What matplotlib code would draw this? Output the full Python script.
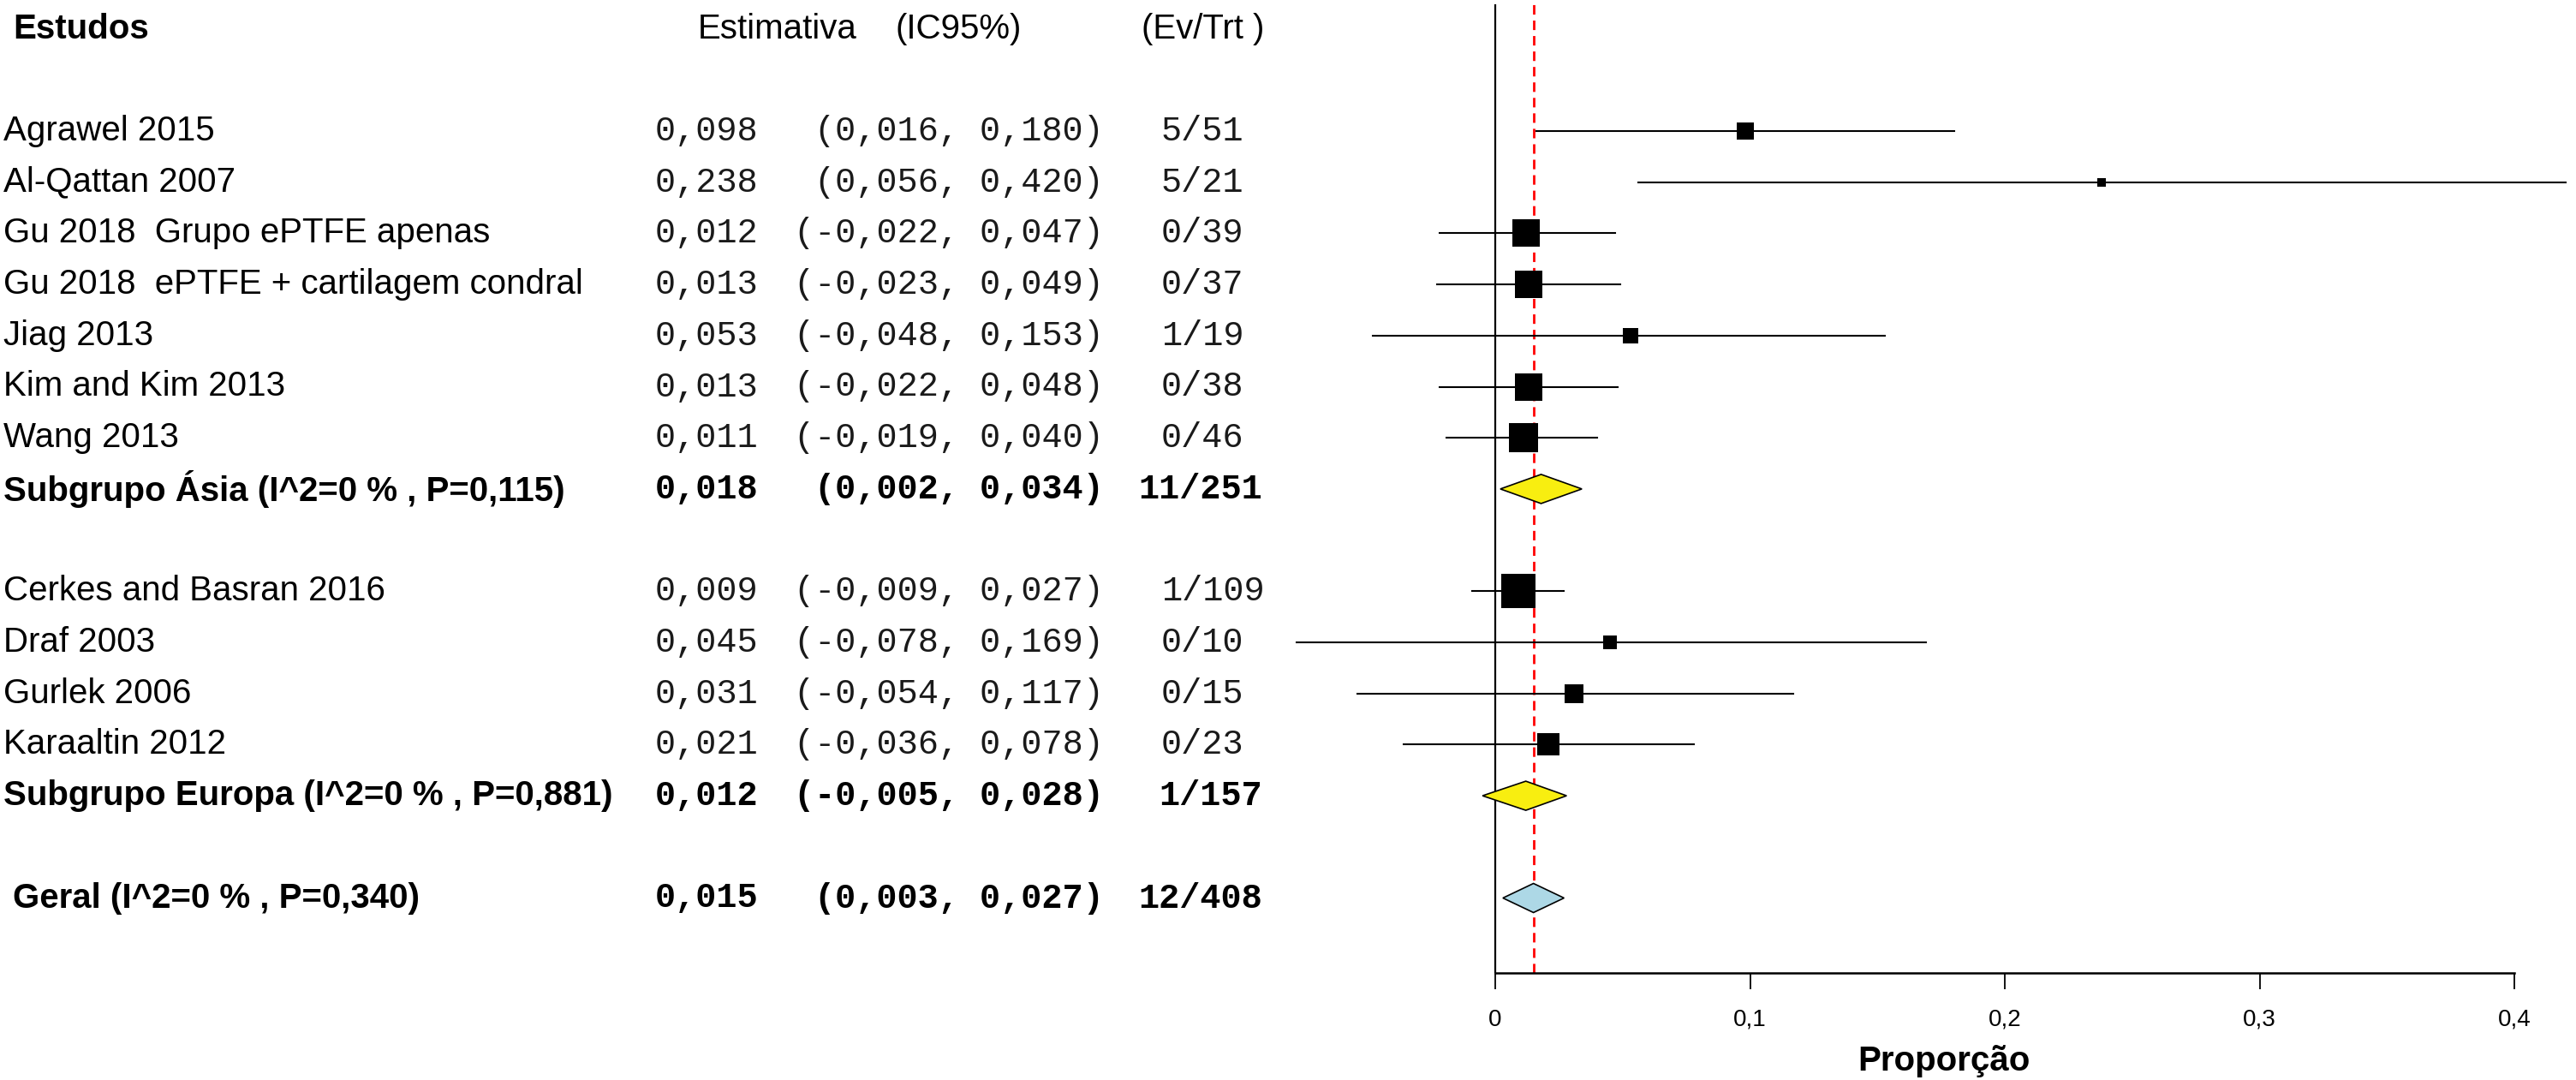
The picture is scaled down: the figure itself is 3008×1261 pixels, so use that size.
import matplotlib
matplotlib.use('Agg')
import matplotlib.pyplot as plt
from matplotlib import transforms
from matplotlib.patches import Polygon

# ---- dados: subgrupo Ásia ----
estudos_asia = ['Agrawel 2015', 'Al-Qattan 2007', 'Gu 2018  Grupo ePTFE apenas',
                'Gu 2018  ePTFE + cartilagem condral', 'Jiag 2013', 'Kim and Kim 2013', 'Wang 2013']
est_asia = [0.098, 0.238, 0.012, 0.013, 0.053, 0.013, 0.011]
li_asia = [0.016, 0.056, -0.022, -0.023, -0.048, -0.022, -0.019]
ls_asia = [0.180, 0.420, 0.047, 0.049, 0.153, 0.048, 0.040]
ev_asia = [5, 5, 0, 0, 1, 0, 0]
n_asia = [51, 21, 39, 37, 19, 38, 46]
peso_asia = [5.0, 1.3, 12.2, 12.2, 4.5, 12.2, 15.0]

# ---- dados: subgrupo Europa ----
estudos_eur = ['Cerkes and Basran 2016', 'Draf 2003', 'Gurlek 2006', 'Karaaltin 2012']
est_eur = [0.009, 0.045, 0.031, 0.021]
li_eur = [-0.009, -0.078, -0.054, -0.036]
ls_eur = [0.027, 0.169, 0.117, 0.078]
ev_eur = [1, 0, 0, 0]
n_eur = [109, 10, 15, 23]
peso_eur = [20.2, 3.5, 5.6, 8.2]

# ---- resumos ----
resumo_nomes = ['Subgrupo Ásia (I^2=0 % , P=0,115)', 'Subgrupo Europa (I^2=0 % , P=0,881)',
                'Geral (I^2=0 % , P=0,340)']
resumo_est = [0.018, 0.012, 0.015]
resumo_li = [0.002, -0.005, 0.003]
resumo_ls = [0.034, 0.028, 0.027]
resumo_ev = [11, 1, 12]
resumo_n = [251, 157, 408]
resumo_cor = ['#F8EE10', '#F8EE10', '#ADD8E6']

ticks_x = [0, 0.1, 0.2, 0.3, 0.4]


def fmt(v):
    return f'{v:.3f}'.replace('.', ',')


plt.rcParams['font.family'] = 'Liberation Sans'

W, H = 3008, 1261
fig = plt.figure(figsize=(W / 100, H / 100), dpi=100)

x0_px, escala = 1746, 2975      # pixel do zero, px por unidade
y0_px, passo = 153, 59.7        # primeira linha, altura da linha
eixo_px = 1136
topo_px = 5
xmin, xmax = -0.1, (W - x0_px) / escala
esq = (x0_px + xmin * escala) / W
ax = fig.add_axes([esq, 1 - eixo_px / H, 1 - esq, (eixo_px - topo_px) / H])
ax.set_xlim(xmin, xmax)
ax.set_ylim((eixo_px - y0_px) / passo, -(y0_px - topo_px) / passo)

trans = transforms.blended_transform_factory(fig.transFigure, ax.transData)
fs = 29
mono = 'Liberation Mono'
cinza = '#1a1a1a'

# linhas das posições
rows_asia = list(range(len(estudos_asia)))
row_res_asia = len(estudos_asia)
rows_eur = [row_res_asia + 2 + i for i in range(len(estudos_eur))]
row_res_eur = rows_eur[-1] + 1
row_geral = row_res_eur + 2
resumo_rows = [row_res_asia, row_res_eur, row_geral]

ax.axvline(0, color='black', lw=1.6, zorder=1)
ax.axvline(resumo_est[2], color='#ff0000', lw=2.0, ls=(0, (4, 2.5)), zorder=1)

# estudos individuais
for nomes, est, li, ls, ev, n, peso, rows in [
        (estudos_asia, est_asia, li_asia, ls_asia, ev_asia, n_asia, peso_asia, rows_asia),
        (estudos_eur, est_eur, li_eur, ls_eur, ev_eur, n_eur, peso_eur, rows_eur)]:
    for i, r in enumerate(rows):
        ax.plot([li[i], ls[i]], [r, r], color='black', lw=1.5, zorder=2)
        lado = 8.9 * peso[i] ** 0.5
        ax.plot(est[i], r, marker='s', color='black', ms=lado * 0.72, mew=0, zorder=3)
        fig.text(4 / W, r, nomes[i], transform=trans, fontsize=fs, va='center', ha='left')
        fig.text(765 / W, r, fmt(est[i]), transform=trans, fontsize=fs, family=mono,
                 color=cinza, va='center', ha='left')
        fig.text(1289 / W, r, f'({fmt(li[i])}, {fmt(ls[i])})', transform=trans, fontsize=fs,
                 family=mono, color=cinza, va='center', ha='right')
        fig.text(1356 / W, r, f'{ev[i]}/{n[i]}', transform=trans, fontsize=fs, family=mono,
                 color=cinza, va='center', ha='left')

# resumos (losangos)
for k, r in enumerate(resumo_rows):
    h = 17 / passo
    losango = Polygon([[resumo_li[k], r], [resumo_est[k], r - h], [resumo_ls[k], r],
                       [resumo_est[k], r + h]], closed=True, facecolor=resumo_cor[k],
                      edgecolor='black', lw=1.2, zorder=3)
    ax.add_patch(losango)
    xn = 15 / W if k == 2 else 4 / W
    fig.text(xn, r, resumo_nomes[k], transform=trans, fontsize=fs, fontweight='bold',
             va='center', ha='left')
    fig.text(765 / W, r, fmt(resumo_est[k]), transform=trans, fontsize=fs, family=mono,
             fontweight='bold', va='center', ha='left')
    fig.text(1289 / W, r, f'({fmt(resumo_li[k])}, {fmt(resumo_ls[k])})', transform=trans,
             fontsize=fs, family=mono, fontweight='bold', va='center', ha='right')
    fig.text(1474 / W, r, f'{resumo_ev[k]}/{resumo_n[k]}', transform=trans, fontsize=fs,
             family=mono, fontweight='bold', va='center', ha='right')

# cabeçalhos
yh = -2
fig.text(15 / W, yh, 'Estudos', transform=trans, fontsize=fs, fontweight='bold', va='center')
fig.text(815 / W, yh, 'Estimativa', transform=trans, fontsize=fs, va='center')
fig.text(1045 / W, yh, '(IC95%)', transform=trans, fontsize=fs, va='center')
fig.text(1333 / W, yh, '(Ev/Trt )', transform=trans, fontsize=fs, va='center')

# eixo x
for s in ['left', 'right', 'top']:
    ax.spines[s].set_visible(False)
ax.spines['bottom'].set_bounds(ticks_x[0], ticks_x[-1])
ax.spines['bottom'].set_linewidth(1.8)
ax.set_yticks([])
ax.set_xticks(ticks_x)
ax.set_xticklabels(['0' if t == 0 else f'{t:.1f}'.replace('.', ',') for t in ticks_x])
ax.tick_params(axis='x', length=14, width=1.3, pad=16, labelsize=20)
fig.text(2270 / W, 1 - 1239 / H, 'Proporção', fontsize=29, fontweight='bold',
         ha='center', va='center')

fig.savefig('out.png', dpi=100)
